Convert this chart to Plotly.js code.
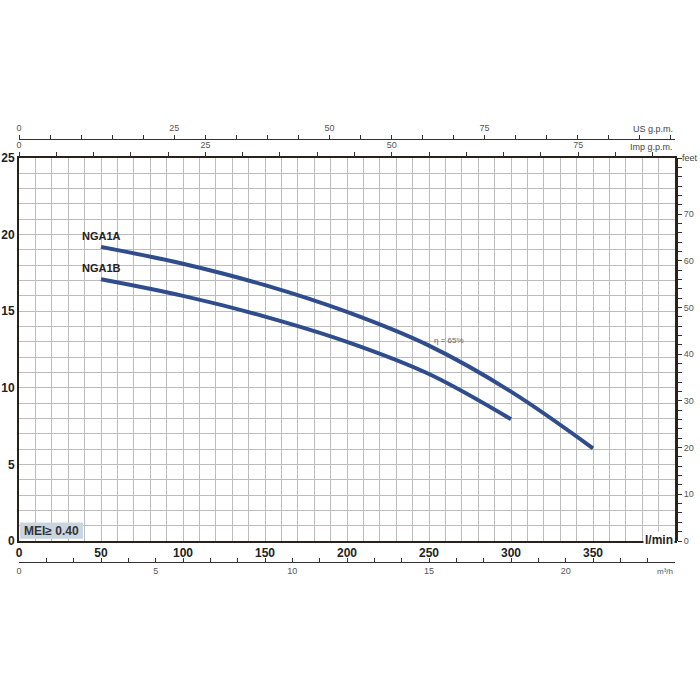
<!DOCTYPE html>
<html><head><meta charset="utf-8">
<script src="https://cdn.plot.ly/plotly-3.0.1.min.js"></script>
<style>html,body{margin:0;padding:0;background:#fff}#chart{width:700px;height:700px}</style>
</head><body><div id="chart"></div>
<script>
// Data
const flowA = [50, 100, 150, 200, 250, 300, 350];          // l/min
const headA = [19.2, 18.1, 16.7, 14.95, 12.75, 9.75, 6.05]; // m
const flowB = [50, 100, 150, 200, 250, 300];                // l/min
const headB = [17.08, 16.0, 14.65, 13.0, 10.9, 7.95];       // m
const seriesNames = ['NGA1A', 'NGA1B'];
const xTicks = [0, 50, 100, 150, 200, 250, 300, 350];
const yTicks = [0, 5, 10, 15, 20, 25];
const usGpmLabels = [0, 25, 50, 75];
const impGpmLabels = [0, 25, 50, 75];
const m3hLabels = [0, 5, 10, 15, 20];
const feetLabels = [0, 10, 20, 30, 40, 50, 60, 70];
const effLabel = 'η = 65%';
const meiLabel = 'MEI≥ 0.40';

const L_PER_USGPM = 3.78541, L_PER_IMPGPM = 4.54609, L_PER_M3H = 1000/60, FT_PER_M = 3.28084;
const xMax = 400, yMax = 25;

function tickSet(step, max, labels) {
  const vals = [], text = [];
  for (let v = 0; v <= max + 1e-9; v += step) {
    vals.push(v);
    text.push(labels.includes(v) ? String(v) : '');
  }
  return {tickmode: 'array', tickvals: vals, ticktext: text};
}

const curveColor = '#2f4d8d';
const small = {family: 'Liberation Sans Narrow, Liberation Sans, Arial', size: 9, color: '#555'};
const bold = {family: 'Liberation Sans, Arial', size: 12, color: '#222', weight: 'bold'};

const traces = [
  {x: flowA, y: headA, mode: 'lines', line: {color: curveColor, width: 4, shape: 'spline', smoothing: 1}, name: seriesNames[0], hoverinfo: 'skip'},
  {x: flowB, y: headB, mode: 'lines', line: {color: curveColor, width: 4, shape: 'spline', smoothing: 1}, name: seriesNames[1], hoverinfo: 'skip'},
  {x: [0], y: [0], xaxis: 'x2', yaxis: 'y', mode: 'markers', marker: {opacity: 0}, hoverinfo: 'skip'},
  {x: [0], y: [0], xaxis: 'x3', yaxis: 'y', mode: 'markers', marker: {opacity: 0}, hoverinfo: 'skip'},
  {x: [0], y: [0], xaxis: 'x4', yaxis: 'y', mode: 'markers', marker: {opacity: 0}, hoverinfo: 'skip'},
  {x: [0], y: [0], xaxis: 'x', yaxis: 'y2', mode: 'markers', marker: {opacity: 0}, hoverinfo: 'skip'}
];

const H = 460, T = 120;
const frac = py => (T + H - py) / H;

const layout = {
  width: 700, height: 700,
  margin: {l: 19, r: 25, t: T, b: 700 - T - H},
  paper_bgcolor: '#fff', plot_bgcolor: '#fff',
  showlegend: false,
  xaxis: {
    range: [0, xMax], tickvals: xTicks, ticktext: xTicks.map(String), ticks: '',
    tickfont: bold, showgrid: true, gridcolor: '#bcbcbc', gridwidth: 1,
    minor: {dtick: 10, showgrid: true, gridcolor: '#bcbcbc', gridwidth: 1},
    showline: true, linecolor: '#2a2219', linewidth: 2, mirror: true, zeroline: false, fixedrange: true
  },
  yaxis: {
    domain: [frac(541), frac(158)], range: [0, yMax], tickvals: yTicks, ticks: '',
    tickfont: bold, showgrid: true, gridcolor: '#bcbcbc', gridwidth: 1,
    minor: {dtick: 1, showgrid: true, gridcolor: '#bcbcbc', gridwidth: 1},
    showline: true, linecolor: '#2a2219', linewidth: 2, mirror: true, zeroline: false, fixedrange: true
  },
  xaxis2: Object.assign({
    overlaying: 'x', anchor: 'free', position: frac(139), side: 'top',
    range: [0, xMax / L_PER_USGPM], ticks: 'outside', ticklen: 4, tickcolor: '#333',
    tickfont: small, showgrid: false, zeroline: false, showline: true, linecolor: '#333', linewidth: 1.2
  }, tickSet(5, xMax / L_PER_USGPM, usGpmLabels)),
  xaxis3: Object.assign({
    overlaying: 'x', anchor: 'y', side: 'top',
    range: [0, xMax / L_PER_IMPGPM], ticks: 'outside', ticklen: 5, tickcolor: '#333',
    tickfont: small, showgrid: false, zeroline: false, showline: false
  }, tickSet(5, xMax / L_PER_IMPGPM, impGpmLabels)),
  xaxis4: Object.assign({
    overlaying: 'x', anchor: 'free', position: frac(562), side: 'bottom',
    range: [0, xMax / L_PER_M3H], ticks: 'inside', ticklen: 4, tickcolor: '#333',
    tickfont: small, showgrid: false, zeroline: false, showline: true, linecolor: '#333', linewidth: 1.2
  }, tickSet(1, xMax / L_PER_M3H, m3hLabels)),
  yaxis2: Object.assign({
    overlaying: 'y', anchor: 'x', side: 'right',
    range: [0, yMax * FT_PER_M], ticks: 'outside', ticklen: 4, tickcolor: '#333',
    tickfont: small, showgrid: false, zeroline: false, showline: true, linecolor: '#2a2219', linewidth: 3
  }, tickSet(2, yMax * FT_PER_M, feetLabels)),
  shapes: [
    {type: 'rect', xref: 'x', yref: 'y', x0: 0.5, x1: 39, y0: 0.15, y1: 1.2, fillcolor: '#c9d5df', line: {width: 0}, layer: 'above'}
  ],
  annotations: [
    {xref: 'x', yref: 'y', x: flowA[0], y: headA[0], yshift: 11, text: '<b>' + seriesNames[0] + '</b>', showarrow: false, font: {family: 'Liberation Sans, Arial', size: 11, color: '#222'}},
    {xref: 'x', yref: 'y', x: flowB[0], y: headB[0], yshift: 11, text: '<b>' + seriesNames[1] + '</b>', showarrow: false, font: {family: 'Liberation Sans, Arial', size: 11, color: '#222'}},
    {xref: 'x', yref: 'y', x: 252, y: 13.1, xanchor: 'left', text: effLabel, showarrow: false, font: {family: 'Liberation Sans Narrow, Liberation Sans, Arial', size: 8, color: '#666'}},
    {xref: 'x', yref: 'y', x: 2, y: 0.68, xanchor: 'left', text: '<b>' + meiLabel + '</b>', showarrow: false, font: {family: 'Liberation Sans, Arial', size: 12, color: '#333'}},
    {xref: 'paper', yref: 'paper', x: 1, y: frac(549), xanchor: 'right', text: '<b>l/min</b>', showarrow: false, font: bold, bgcolor: '#fff'},
    {xref: 'paper', yref: 'paper', x: 1, y: frac(129), xanchor: 'right', yanchor: 'middle', text: 'US g.p.m.', showarrow: false, font: {family: small.family, size: 9, color: '#444'}},
    {xref: 'paper', yref: 'paper', x: 1, y: frac(147), xanchor: 'right', yanchor: 'middle', text: 'Imp g.p.m.', showarrow: false, font: {family: small.family, size: 9, color: '#444'}},
    {xref: 'paper', yref: 'paper', x: 1.008, y: frac(158), xanchor: 'left', yanchor: 'middle', text: 'feet', showarrow: false, font: {family: small.family, size: 9, color: '#444'}},
    {xref: 'paper', yref: 'paper', x: 1, y: frac(571), xanchor: 'right', yanchor: 'middle', text: 'm³/h', showarrow: false, font: {family: small.family, size: 8, color: '#555'}, bgcolor: '#fff'}
  ]
};

Plotly.newPlot('chart', traces, layout, {staticPlot: true, displayModeBar: false});
</script>
</body></html>
